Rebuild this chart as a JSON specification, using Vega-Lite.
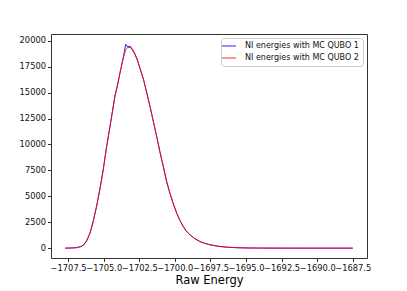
{
  "$schema": "https://vega.github.io/schema/vega-lite/v6.json",
  "width": 316,
  "height": 224,
  "autosize": {"type": "none"},
  "padding": {"left": 51, "top": 34, "right": 40, "bottom": 33},
  "background": "white",
  "config": {
    "font": "DejaVu Sans",
    "view": {"stroke": "#333", "strokeWidth": 1},
    "axis": {"grid": false, "domain": false, "tickColor": "#333", "tickSize": 3.5, "labelColor": "#111", "labelFontSize": 8.3, "labelPadding": 2, "titleColor": "#000", "titleFontWeight": "normal"}
  },
  "data": {"values": [
    {"x": -1707.7, "y": 0, "s": "NI energies with MC QUBO 1"},
    {"x": -1707.2, "y": 20, "s": "NI energies with MC QUBO 1"},
    {"x": -1706.9, "y": 50, "s": "NI energies with MC QUBO 1"},
    {"x": -1706.6, "y": 150, "s": "NI energies with MC QUBO 1"},
    {"x": -1706.4, "y": 320, "s": "NI energies with MC QUBO 1"},
    {"x": -1706.2, "y": 700, "s": "NI energies with MC QUBO 1"},
    {"x": -1705.96, "y": 1450, "s": "NI energies with MC QUBO 1"},
    {"x": -1705.75, "y": 2500, "s": "NI energies with MC QUBO 1"},
    {"x": -1705.5, "y": 4020, "s": "NI energies with MC QUBO 1"},
    {"x": -1705.25, "y": 5800, "s": "NI energies with MC QUBO 1"},
    {"x": -1705.03, "y": 7570, "s": "NI energies with MC QUBO 1"},
    {"x": -1704.8, "y": 9750, "s": "NI energies with MC QUBO 1"},
    {"x": -1704.55, "y": 11800, "s": "NI energies with MC QUBO 1"},
    {"x": -1704.35, "y": 13500, "s": "NI energies with MC QUBO 1"},
    {"x": -1704.2, "y": 14750, "s": "NI energies with MC QUBO 1"},
    {"x": -1704.0, "y": 15900, "s": "NI energies with MC QUBO 1"},
    {"x": -1703.85, "y": 16950, "s": "NI energies with MC QUBO 1"},
    {"x": -1703.6, "y": 18550, "s": "NI energies with MC QUBO 1"},
    {"x": -1703.45, "y": 19650, "s": "NI energies with MC QUBO 1"},
    {"x": -1703.3, "y": 19400, "s": "NI energies with MC QUBO 1"},
    {"x": -1703.15, "y": 19500, "s": "NI energies with MC QUBO 1"},
    {"x": -1703.0, "y": 19150, "s": "NI energies with MC QUBO 1"},
    {"x": -1702.85, "y": 18800, "s": "NI energies with MC QUBO 1"},
    {"x": -1702.68, "y": 18300, "s": "NI energies with MC QUBO 1"},
    {"x": -1702.45, "y": 17350, "s": "NI energies with MC QUBO 1"},
    {"x": -1702.2, "y": 16260, "s": "NI energies with MC QUBO 1"},
    {"x": -1701.95, "y": 14850, "s": "NI energies with MC QUBO 1"},
    {"x": -1701.75, "y": 13700, "s": "NI energies with MC QUBO 1"},
    {"x": -1701.5, "y": 12150, "s": "NI energies with MC QUBO 1"},
    {"x": -1701.28, "y": 10800, "s": "NI energies with MC QUBO 1"},
    {"x": -1701.05, "y": 9300, "s": "NI energies with MC QUBO 1"},
    {"x": -1700.81, "y": 7850, "s": "NI energies with MC QUBO 1"},
    {"x": -1700.58, "y": 6400, "s": "NI energies with MC QUBO 1"},
    {"x": -1700.34, "y": 5250, "s": "NI energies with MC QUBO 1"},
    {"x": -1700.1, "y": 4250, "s": "NI energies with MC QUBO 1"},
    {"x": -1699.87, "y": 3380, "s": "NI energies with MC QUBO 1"},
    {"x": -1699.65, "y": 2700, "s": "NI energies with MC QUBO 1"},
    {"x": -1699.41, "y": 2090, "s": "NI energies with MC QUBO 1"},
    {"x": -1699.2, "y": 1650, "s": "NI energies with MC QUBO 1"},
    {"x": -1698.94, "y": 1285, "s": "NI energies with MC QUBO 1"},
    {"x": -1698.6, "y": 920, "s": "NI energies with MC QUBO 1"},
    {"x": -1698.24, "y": 640, "s": "NI energies with MC QUBO 1"},
    {"x": -1697.9, "y": 460, "s": "NI energies with MC QUBO 1"},
    {"x": -1697.54, "y": 330, "s": "NI energies with MC QUBO 1"},
    {"x": -1697.0, "y": 190, "s": "NI energies with MC QUBO 1"},
    {"x": -1696.4, "y": 100, "s": "NI energies with MC QUBO 1"},
    {"x": -1695.7, "y": 45, "s": "NI energies with MC QUBO 1"},
    {"x": -1695.0, "y": 20, "s": "NI energies with MC QUBO 1"},
    {"x": -1694.0, "y": 8, "s": "NI energies with MC QUBO 1"},
    {"x": -1693.0, "y": 3, "s": "NI energies with MC QUBO 1"},
    {"x": -1692.0, "y": 1, "s": "NI energies with MC QUBO 1"},
    {"x": -1690.5, "y": 0, "s": "NI energies with MC QUBO 1"},
    {"x": -1689.0, "y": 0, "s": "NI energies with MC QUBO 1"},
    {"x": -1687.5, "y": 0, "s": "NI energies with MC QUBO 1"},
    {"x": -1707.7, "y": 0, "s": "NI energies with MC QUBO 2"},
    {"x": -1707.2, "y": 20, "s": "NI energies with MC QUBO 2"},
    {"x": -1706.9, "y": 50, "s": "NI energies with MC QUBO 2"},
    {"x": -1706.6, "y": 160, "s": "NI energies with MC QUBO 2"},
    {"x": -1706.4, "y": 300, "s": "NI energies with MC QUBO 2"},
    {"x": -1706.2, "y": 700, "s": "NI energies with MC QUBO 2"},
    {"x": -1705.96, "y": 1450, "s": "NI energies with MC QUBO 2"},
    {"x": -1705.75, "y": 2500, "s": "NI energies with MC QUBO 2"},
    {"x": -1705.5, "y": 4020, "s": "NI energies with MC QUBO 2"},
    {"x": -1705.25, "y": 5800, "s": "NI energies with MC QUBO 2"},
    {"x": -1705.03, "y": 7570, "s": "NI energies with MC QUBO 2"},
    {"x": -1704.8, "y": 9700, "s": "NI energies with MC QUBO 2"},
    {"x": -1704.55, "y": 11750, "s": "NI energies with MC QUBO 2"},
    {"x": -1704.35, "y": 13400, "s": "NI energies with MC QUBO 2"},
    {"x": -1704.2, "y": 14650, "s": "NI energies with MC QUBO 2"},
    {"x": -1704.0, "y": 15900, "s": "NI energies with MC QUBO 2"},
    {"x": -1703.85, "y": 16900, "s": "NI energies with MC QUBO 2"},
    {"x": -1703.6, "y": 18450, "s": "NI energies with MC QUBO 2"},
    {"x": -1703.45, "y": 19150, "s": "NI energies with MC QUBO 2"},
    {"x": -1703.3, "y": 19350, "s": "NI energies with MC QUBO 2"},
    {"x": -1703.15, "y": 19350, "s": "NI energies with MC QUBO 2"},
    {"x": -1703.0, "y": 19250, "s": "NI energies with MC QUBO 2"},
    {"x": -1702.85, "y": 18900, "s": "NI energies with MC QUBO 2"},
    {"x": -1702.68, "y": 18350, "s": "NI energies with MC QUBO 2"},
    {"x": -1702.45, "y": 17350, "s": "NI energies with MC QUBO 2"},
    {"x": -1702.2, "y": 16260, "s": "NI energies with MC QUBO 2"},
    {"x": -1701.95, "y": 14850, "s": "NI energies with MC QUBO 2"},
    {"x": -1701.75, "y": 13680, "s": "NI energies with MC QUBO 2"},
    {"x": -1701.5, "y": 12150, "s": "NI energies with MC QUBO 2"},
    {"x": -1701.28, "y": 10780, "s": "NI energies with MC QUBO 2"},
    {"x": -1701.05, "y": 9300, "s": "NI energies with MC QUBO 2"},
    {"x": -1700.81, "y": 7880, "s": "NI energies with MC QUBO 2"},
    {"x": -1700.58, "y": 6500, "s": "NI energies with MC QUBO 2"},
    {"x": -1700.34, "y": 5310, "s": "NI energies with MC QUBO 2"},
    {"x": -1700.1, "y": 4250, "s": "NI energies with MC QUBO 2"},
    {"x": -1699.87, "y": 3380, "s": "NI energies with MC QUBO 2"},
    {"x": -1699.65, "y": 2700, "s": "NI energies with MC QUBO 2"},
    {"x": -1699.41, "y": 2090, "s": "NI energies with MC QUBO 2"},
    {"x": -1699.2, "y": 1650, "s": "NI energies with MC QUBO 2"},
    {"x": -1698.94, "y": 1285, "s": "NI energies with MC QUBO 2"},
    {"x": -1698.6, "y": 920, "s": "NI energies with MC QUBO 2"},
    {"x": -1698.24, "y": 640, "s": "NI energies with MC QUBO 2"},
    {"x": -1697.9, "y": 460, "s": "NI energies with MC QUBO 2"},
    {"x": -1697.54, "y": 330, "s": "NI energies with MC QUBO 2"},
    {"x": -1697.0, "y": 190, "s": "NI energies with MC QUBO 2"},
    {"x": -1696.4, "y": 100, "s": "NI energies with MC QUBO 2"},
    {"x": -1695.7, "y": 45, "s": "NI energies with MC QUBO 2"},
    {"x": -1695.0, "y": 20, "s": "NI energies with MC QUBO 2"},
    {"x": -1694.0, "y": 8, "s": "NI energies with MC QUBO 2"},
    {"x": -1693.0, "y": 3, "s": "NI energies with MC QUBO 2"},
    {"x": -1692.0, "y": 1, "s": "NI energies with MC QUBO 2"},
    {"x": -1690.5, "y": 0, "s": "NI energies with MC QUBO 2"},
    {"x": -1689.0, "y": 0, "s": "NI energies with MC QUBO 2"},
    {"x": -1687.5, "y": 0, "s": "NI energies with MC QUBO 2"}
  ]},
  "mark": {"type": "line", "strokeWidth": 1, "opacity": 0.85},
  "encoding": {
    "x": {
      "field": "x", "type": "quantitative",
      "scale": {"domain": [-1708.7, -1686.5], "nice": false, "zero": false},
      "axis": {
        "title": "Raw Energy", "titleFontSize": 11.5, "titlePadding": 3,
        "values": [-1707.5, -1705, -1702.5, -1700, -1697.5, -1695, -1692.5, -1690, -1687.5],
        "format": ".1f",
        "labelExpr": "replace(datum.label, '-', '\u2212')",
        "labelOverlap": false, "labelBound": false, "labelFlush": false
      }
    },
    "y": {
      "field": "y", "type": "quantitative",
      "scale": {"domain": [-950, 20650], "nice": false, "zero": false},
      "axis": {
        "title": null,
        "values": [0, 2500, 5000, 7500, 10000, 12500, 15000, 17500, 20000],
        "format": "d", "labelOverlap": false
      }
    },
    "color": {
      "field": "s", "type": "nominal",
      "scale": {"domain": ["NI energies with MC QUBO 1", "NI energies with MC QUBO 2"], "range": ["#0000ff", "#ff0000"]},
      "legend": {
        "title": null, "orient": "top-right", "offset": 4,
        "fillColor": "white", "strokeColor": "#cccccc", "cornerRadius": 3, "padding": 4,
        "symbolType": "M-2,0H2", "symbolSize": 49, "symbolStrokeWidth": 1,
        "labelFontSize": 8, "labelColor": "#111", "rowPadding": 4, "labelOffset": 12
      }
    }
  }
}
